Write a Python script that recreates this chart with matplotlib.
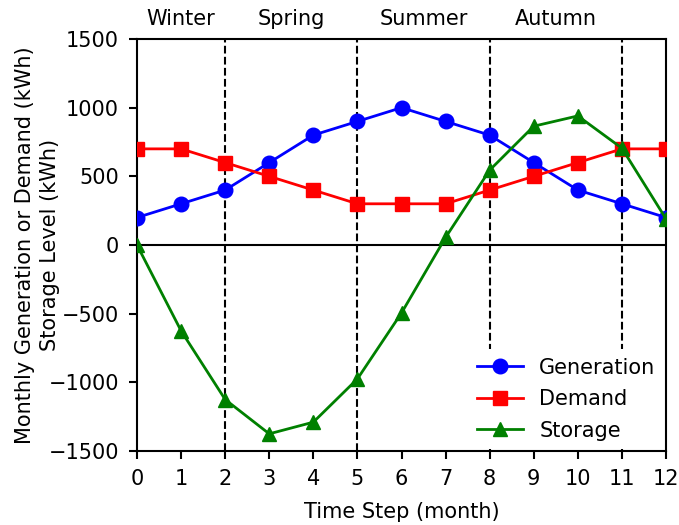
import matplotlib
matplotlib.use("Agg")
import matplotlib.pyplot as plt

months = list(range(13))
generation = [200, 300, 400, 600, 800, 900, 1000, 900, 800, 600, 400, 300, 200]
demand = [700, 700, 600, 500, 400, 300, 300, 300, 400, 500, 600, 700, 700]
storage = [0, -625, -1125, -1375, -1290, -975, -495, 55, 545, 865, 940, 705, 190]
season_bounds = [2, 5, 8, 11]
seasons = ["Winter", "Spring", "Summer", "Autumn"]
season_pos = [1.0, 3.5, 6.5, 9.5]

FS = 15
fig = plt.figure(figsize=(6.79, 5.25), dpi=100)
ax = fig.add_axes([137/679, 1-451/525, (666-137)/679, 412/525])

for b in season_bounds:
    ax.axvline(b, color="black", linestyle="--", linewidth=1.5, zorder=1)
ax.axhline(0, color="black", linewidth=1.5, zorder=1)

ax.plot(months, generation, "-o", color="blue", markersize=10.5, linewidth=2, label="Generation", zorder=3)
ax.plot(months, demand, "-s", color="red", markersize=10.5, linewidth=2, label="Demand", zorder=3)
ax.plot(months, storage, "-^", color="green", markersize=10.5, linewidth=2, label="Storage", zorder=3)

ax.set_xlim(0, 12)
ax.set_ylim(-1500, 1500)
ax.set_xticks(months)
ax.set_yticks([-1500, -1000, -500, 0, 500, 1000, 1500])
ax.tick_params(labelsize=FS, width=1.5, length=6, pad=7)
for s in ax.spines.values():
    s.set_linewidth(1.5)
ax.set_xlabel("Time Step (month)", fontsize=FS, labelpad=9)
ax.set_ylabel("Monthly Generation or Demand (kWh)", fontsize=FS)
ax.yaxis.set_label_coords(-0.193, 0.5)
ax.text(-0.146, 0.5, "Storage Level (kWh)", transform=ax.transAxes, rotation=90,
        rotation_mode="anchor", ha="center", va="bottom", fontsize=FS)

for name, xp in zip(seasons, season_pos):
    ax.text(xp, 1.034, name, transform=ax.get_xaxis_transform(), ha="center", va="baseline", fontsize=FS)

leg = ax.legend(loc="lower right", fontsize=FS, frameon=True, framealpha=1, edgecolor="none",
                fancybox=False, borderaxespad=0.1, handlelength=2.2, labelspacing=0.55)
leg.set_zorder(2)

fig.savefig("out.png", dpi=100)
